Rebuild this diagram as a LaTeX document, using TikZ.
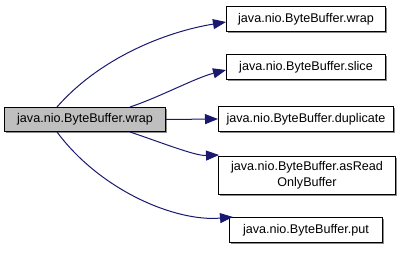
\documentclass[tikz,border=0pt]{standalone}
\usepackage{fontspec}
\setmainfont{Liberation Sans}
\usetikzlibrary{arrows.meta}
\definecolor{edgeblue}{HTML}{191970}
\definecolor{rootfill}{HTML}{BFBFBF}
\tikzset{
  fn/.style={draw=black, line width=1pt, fill=white, align=center,
    font=\fontsize{12.6}{16}\selectfont, inner sep=0pt},
  shadowbox/.style={fill=black!45},
  call/.style={draw=edgeblue, line width=1pt,
    -{Triangle[length=13pt,width=10pt]}},
}
\newcommand{\fnbox}[6]{%
  % name, left, top, right, bottom, text
  \fill[shadowbox] (#2+2,#3+2) rectangle (#4+2,#5+2);
  \node[fn, minimum width=#4-#2, minimum height=#5-#3, anchor=north west]
    (#1) at (#2,#3) {#6};
}
\begin{document}
\begin{tikzpicture}[x=1pt,y=-1pt]
\useasboundingbox (0,0) rectangle (404,256);

\fill[shadowbox] (6,109) rectangle (167,133);
\node[fn, fill=rootfill, minimum width=161, minimum height=24, anchor=north west]
  (root) at (4,107) {java.nio.ByteBuffer.wrap};

\fnbox{wrap}{226}{6}{385}{31}{java.nio.ByteBuffer.wrap}
\fnbox{slice}{226}{54}{385}{79}{java.nio.ByteBuffer.slice}
\fnbox{dup}{218}{106}{393}{131}{java.nio.ByteBuffer.duplicate}
\fnbox{ro}{218}{156}{395}{194}{java.nio.ByteBuffer.asRead\\OnlyBuffer}
\fnbox{put}{229}{217}{382}{242}{java.nio.ByteBuffer.put}

\draw[call] ([xshift=-28pt]root.north) .. controls (100,58) and (165,32) .. ([yshift=-3pt]wrap.west);
\draw[call] ([xshift=45pt]root.north) .. controls (160,97) and (195,78) .. ([yshift=-3pt]slice.west);
\draw[call] (root.east) -- (dup.west);
\draw[call] ([xshift=45pt]root.south) .. controls (160,142) and (195,156) .. ([xshift=1pt,yshift=1pt]ro.north west);
\draw[call] ([xshift=-28pt]root.south) .. controls (100,190) and (175,222) .. ([xshift=4pt]put.north west);
\end{tikzpicture}
\end{document}
